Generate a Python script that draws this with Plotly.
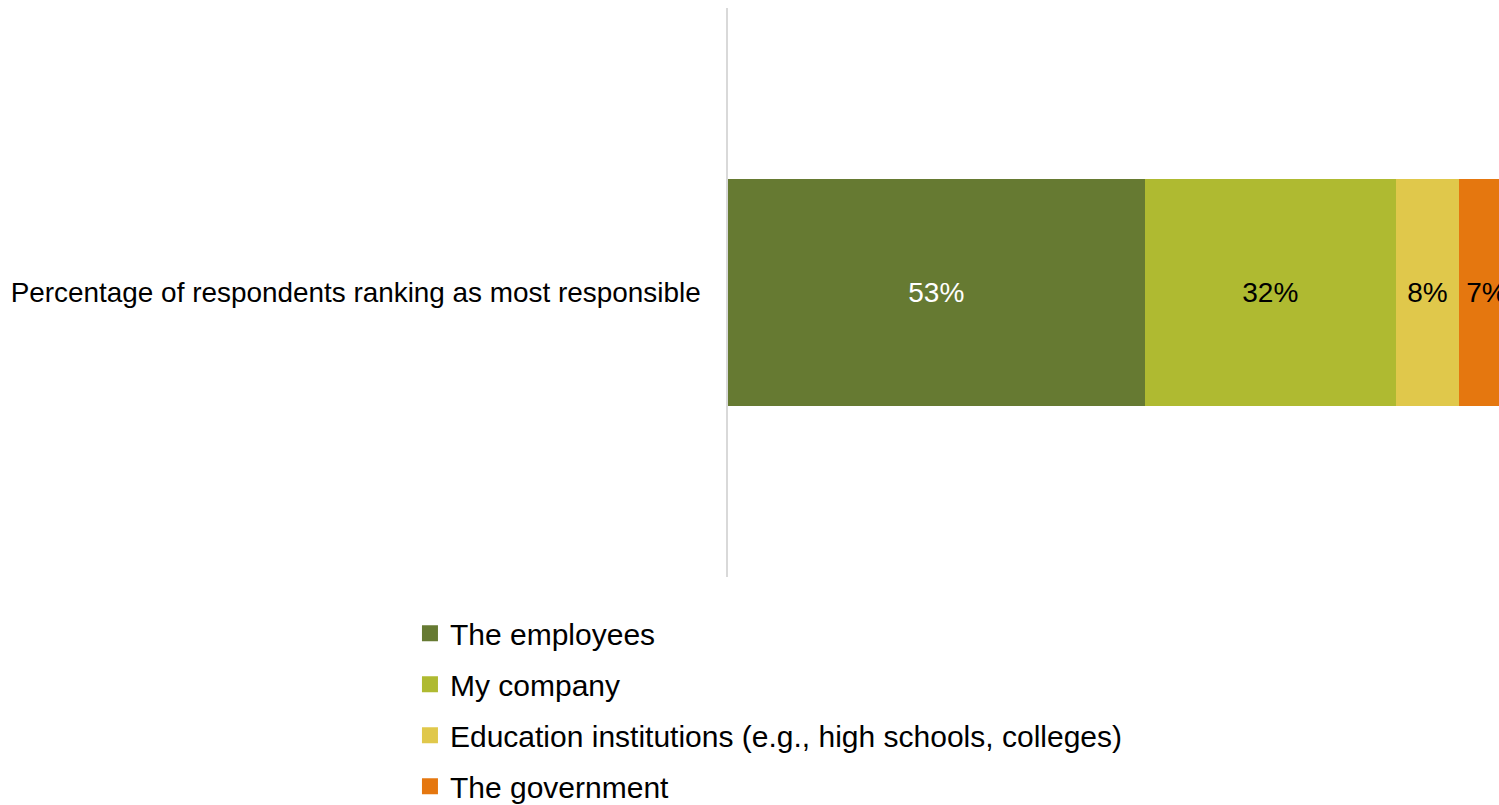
import plotly.graph_objects as go

# Share of respondents naming each party as most responsible
category = ["Percentage of respondents ranking as most responsible"]
parties = [
    "The employees",
    "My company",
    "Education institutions (e.g., high schools, colleges)",
    "The government",
]
shares = [53, 32, 8, 7]
colors = ["#667A32", "#AFBA31", "#E0C84B", "#E5770F"]
label_colors = ["white", "black", "black", "black"]

FONT = "Liberation Sans, Arial, sans-serif"

fig = go.Figure()
for i, (name, val, col, lc) in enumerate(zip(parties, shares, colors, label_colors)):
    fig.add_trace(go.Bar(
        y=category,
        x=[val],
        name=name,
        orientation="h",
        marker=dict(color=col, line=dict(width=0)),
        text=[f"{val}%"],
        textposition="inside",
        insidetextanchor="middle",
        textfont=dict(color=lc, size=28, family=FONT),
        cliponaxis=True,
        showlegend=False,
    ))

# Legend entries with larger square swatches
for i, (name, col) in enumerate(zip(parties, colors)):
    fig.add_trace(go.Scatter(
        x=[None],
        y=[None],
        mode="markers",
        name=name,
        marker=dict(symbol="square", size=16, color=col),
        legendgroup=f"g{i}",
        showlegend=True,
        hoverinfo="skip",
    ))

fig.update_layout(
    width=1499,
    height=805,
    barmode="stack",
    bargap=0.6,
    plot_bgcolor="white",
    paper_bgcolor="white",
    margin=dict(l=728, r=0, t=8, b=228, autoexpand=False),
    font=dict(family=FONT, color="black"),
    showlegend=True,
    legend=dict(
        orientation="v",
        traceorder="grouped",
        x=-0.4125,
        xanchor="left",
        y=-0.053,
        yanchor="top",
        font=dict(size=30, family=FONT),
        tracegroupgap=9,
        itemwidth=30,
    ),
    xaxis=dict(
        range=[0, 98.1],
        visible=False,
        showgrid=False,
        zeroline=False,
    ),
    yaxis=dict(
        showline=True,
        linecolor="#D9D9D9",
        linewidth=1.5,
        showgrid=False,
        zeroline=False,
        ticks="",
        ticklabelstandoff=20,
        tickfont=dict(size=27.9, family=FONT),
    ),
)

fig.write_html("out.html")
